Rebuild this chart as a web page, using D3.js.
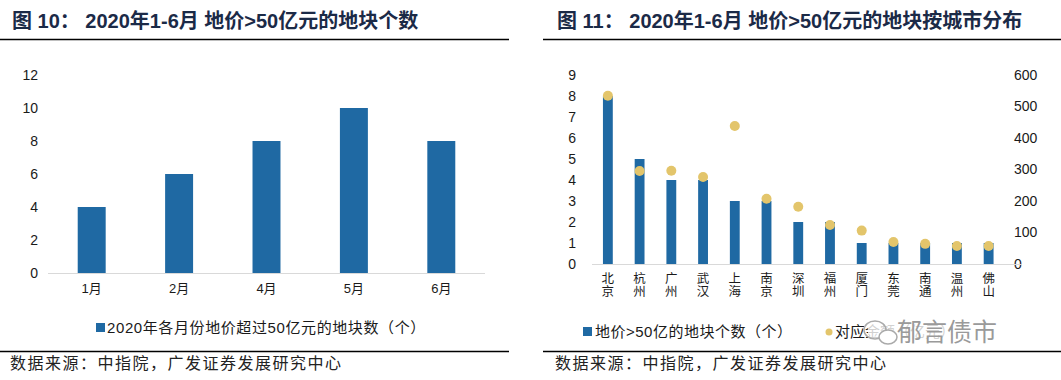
<!DOCTYPE html>
<html><head><meta charset="utf-8">
<script src="https://cdn.jsdelivr.net/npm/d3@7"></script>
<style>body{margin:0;background:#fff}svg{display:block}text{font-family:Arial,"Liberation Sans","Noto Sans CJK SC",sans-serif}</style>
</head><body><svg id="c" width="1061" height="380"></svg>
<script>
const months = ["1月","2月","4月","5月","6月"];
const monthCounts = [4,6,8,10,8];
const leftTicks = [0,2,4,6,8,10,12];
const cities = ["北京","杭州","广州","武汉","上海","南京","深圳","福州","厦门","东莞","南通","温州","佛山"];
const cityCounts = [8,5,4,4,3,3,2,2,1,1,1,1,1];
const cityAmounts = [534,295,296,276,438,207,182,124,106,70,64,57,57];
const rightLeftTicks = [0,1,2,3,4,5,6,7,8,9];
const rightRightTicks = [0,100,200,300,400,500,600];

const svg = d3.select("#c");
const BAR = "#1f69a3", DOT = "#e3c56b", TXT = "#1a1a1a", TITLE = "#1b2a47";
const cjk = '"Noto Sans CJK SC",sans-serif';
const mix = 'Arial,"Noto Sans CJK SC",sans-serif';

// titles
svg.append("text").attr("x",12).attr("y",28).attr("font-size",20).attr("font-weight","bold").attr("fill",TITLE)
  .style("font-family",mix).attr("xml:space","preserve").text("图 10： 2020年1-6月 地价>50亿元的地块个数");
svg.append("text").attr("x",557).attr("y",28).attr("font-size",20).attr("font-weight","bold").attr("fill",TITLE)
  .style("font-family",mix).attr("xml:space","preserve").text("图 11： 2020年1-6月 地价>50亿元的地块按城市分布");
svg.append("line").attr("x1",0).attr("x2",509).attr("y1",39.5).attr("y2",39.5).attr("stroke","#000").attr("stroke-width",1.3);
svg.append("line").attr("x1",543).attr("x2",1061).attr("y1",39.5).attr("y2",39.5).attr("stroke","#000").attr("stroke-width",1.3);
svg.append("line").attr("x1",0).attr("x2",509).attr("y1",351.5).attr("y2",351.5).attr("stroke","#000").attr("stroke-width",1.3);
svg.append("line").attr("x1",543).attr("x2",1061).attr("y1",351.5).attr("y2",351.5).attr("stroke","#000").attr("stroke-width",1.3);
svg.append("text").attr("x",10).attr("y",369).attr("font-size",16).attr("letter-spacing",1.5).attr("fill","#222").style("font-family",cjk).text("数据来源：中指院，广发证券发展研究中心");
svg.append("text").attr("x",555).attr("y",369).attr("font-size",16).attr("letter-spacing",1.5).attr("fill","#222").style("font-family",cjk).text("数据来源：中指院，广发证券发展研究中心");

// left chart
const x1 = d3.scaleBand().domain(months).range([48,485]).paddingInner(0.68).paddingOuter(0.34);
const y1 = d3.scaleLinear().domain([0,12]).range([273,75]);
const g1 = svg.append("g");
g1.append("g").attr("transform","translate(38,0)")
  .call(d3.axisLeft(y1).tickValues(leftTicks).tickSize(0).tickPadding(0))
  .call(g=>g.select(".domain").remove())
  .selectAll("text").attr("font-size",14).attr("fill",TXT).style("font-family","Arial,sans-serif");
g1.selectAll("rect.b").data(months).enter().append("rect")
  .attr("x",d=>x1(d)).attr("width",x1.bandwidth())
  .attr("y",(d,i)=>y1(monthCounts[i])).attr("height",(d,i)=>y1(0)-y1(monthCounts[i])).attr("fill",BAR);
g1.append("g").attr("transform","translate(0,273)")
  .call(d3.axisBottom(x1).tickSize(0).tickPadding(11))
  .call(g=>g.select(".domain").attr("stroke","#d9d9d9").attr("d","M48,0.5H485"))
  .selectAll("text").attr("font-size",13).attr("fill",TXT).style("font-family",mix);
svg.append("rect").attr("x",96).attr("y",323).attr("width",9).attr("height",9).attr("fill",BAR);
svg.append("text").attr("x",107).attr("y",333).attr("font-size",15).attr("letter-spacing",0.6).attr("fill",TXT).style("font-family",mix).text("2020年各月份地价超过50亿元的地块数（个）");

// right chart
const x2 = d3.scaleBand().domain(cities).range([592,1004.5]).paddingInner(0.69).paddingOuter(0.345);
const y2 = d3.scaleLinear().domain([0,9]).range([264,75]);
const y3 = d3.scaleLinear().domain([0,600]).range([264,75]);
const g2 = svg.append("g");
g2.append("g").attr("transform","translate(576,0)")
  .call(d3.axisLeft(y2).tickValues(rightLeftTicks).tickSize(0).tickPadding(0))
  .call(g=>g.select(".domain").remove())
  .selectAll("text").attr("font-size",14).attr("fill",TXT).style("font-family","Arial,sans-serif");
g2.append("g").attr("transform","translate(1014,0)")
  .call(d3.axisRight(y3).tickValues(rightRightTicks).tickSize(0).tickPadding(0))
  .call(g=>g.select(".domain").remove())
  .selectAll("text").attr("font-size",14).attr("fill",TXT).style("font-family","Arial,sans-serif");
g2.selectAll("rect.b").data(cities).enter().append("rect")
  .attr("x",d=>x2(d)).attr("width",x2.bandwidth())
  .attr("y",(d,i)=>y2(cityCounts[i])).attr("height",(d,i)=>y2(0)-y2(cityCounts[i])).attr("fill",BAR);
g2.append("line").attr("x1",592).attr("x2",1022).attr("y1",264.5).attr("y2",264.5).attr("stroke","#d9d9d9");
g2.selectAll("circle.d").data(cities).enter().append("circle")
  .attr("cx",d=>x2(d)+x2.bandwidth()/2).attr("cy",(d,i)=>y3(cityAmounts[i])).attr("r",5).attr("fill",DOT);
g2.selectAll("text.xl").data(cities).enter().append("text")
  .attr("class","xl").attr("x",d=>x2(d)+x2.bandwidth()/2).attr("y",272)
  .style("writing-mode","vertical-rl").attr("letter-spacing",0.5)
  .attr("font-size",12.5).attr("fill",TXT).style("font-family",cjk).text(d=>d);

svg.append("rect").attr("x",583).attr("y",327).attr("width",9).attr("height",9).attr("fill",BAR);
svg.append("text").attr("x",595).attr("y",337).attr("font-size",15).attr("letter-spacing",0.5).attr("fill",TXT).style("font-family",mix).text("地价>50亿的地块个数（个）");
svg.append("circle").attr("cx",829).attr("cy",332).attr("r",3.5).attr("fill",DOT);
svg.append("text").attr("x",835).attr("y",337).attr("font-size",15).attr("fill",TXT).style("font-family",cjk).text("对应金额（亿元）");
// watermark
const wm = svg.append("g");
wm.append("rect").attr("x",868).attr("y",318).attr("width",155).attr("height",28).attr("fill","#fff").attr("opacity",0.8);
wm.append("ellipse").attr("cx",875).attr("cy",330).attr("rx",11).attr("ry",9).attr("fill","none").attr("stroke","#aaa").attr("stroke-width",1.5);
wm.append("ellipse").attr("cx",888).attr("cy",337).attr("rx",9).attr("ry",7).attr("fill","#fff").attr("stroke","#aaa").attr("stroke-width",1.5);
wm.append("text").attr("x",897).attr("y",341).attr("font-size",25).attr("fill","#9a9a9a").style("font-family",cjk).text("郁言债市");
</script></body></html>
